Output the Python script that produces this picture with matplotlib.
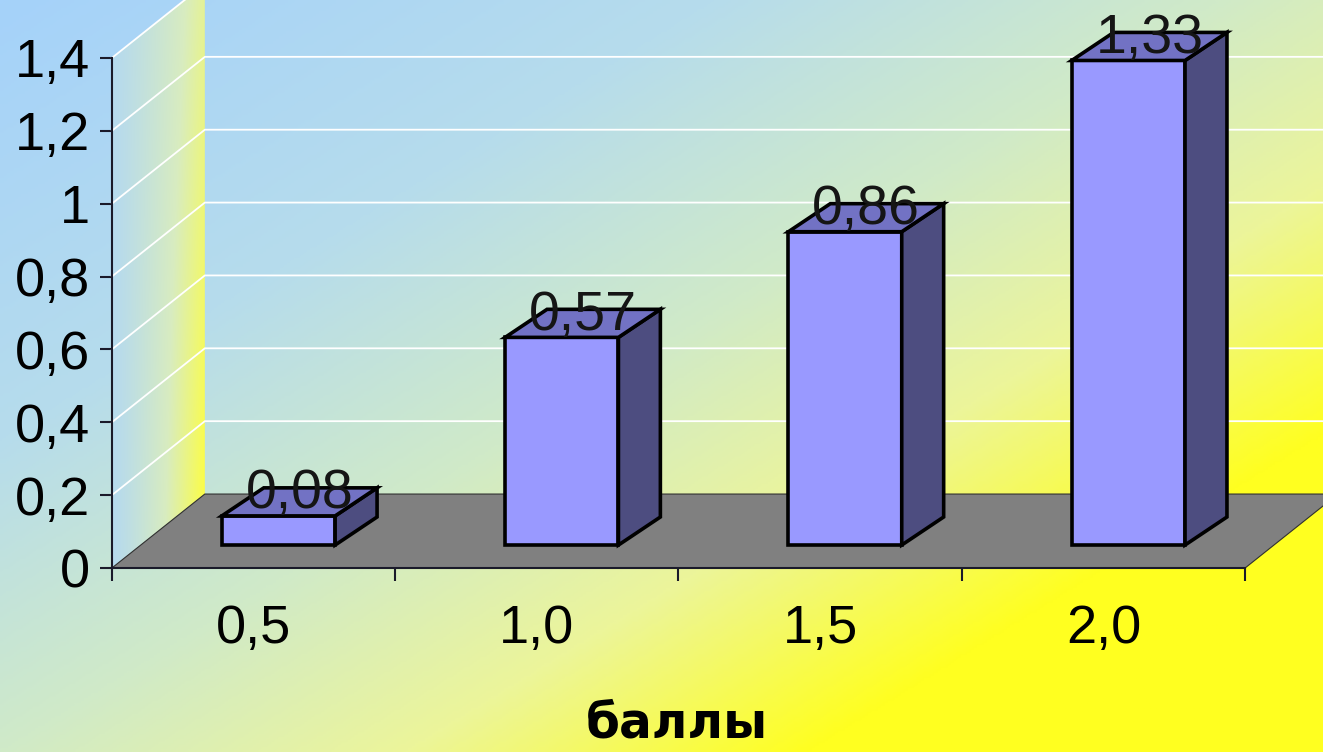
import numpy as np
import matplotlib
matplotlib.use('Agg')
import matplotlib.pyplot as plt
from matplotlib.patches import Polygon
from matplotlib.colors import LinearSegmentedColormap

plt.rcParams['font.family'] = ['Liberation Sans', 'DejaVu Sans']

categories = ['0,5', '1,0', '1,5', '2,0']
values = [0.08, 0.57, 0.86, 1.33]
value_labels = ['0,08', '0,57', '0,86', '1,33']
y_ticks = [0, 0.2, 0.4, 0.6, 0.8, 1.0, 1.2, 1.4]
y_tick_labels = ['0', '0,2', '0,4', '0,6', '0,8', '1', '1,2', '1,4']
x_title = 'баллы'

# pseudo 3D geometry (data units)
DX, DY = 0.328, 0.203   # depth of floor / walls
FX, FY = 0.088, 0.063   # front of the bars, pushed into the floor
BX, BY = 0.148, 0.077   # depth of the bars
W = 0.40
TOP = 1.4

fig = plt.figure(figsize=(13.23, 7.52), dpi=100)
ax = fig.add_axes([0, 0, 1, 1])
xmin, xmax = -0.395, 4.275
ymin, ymax = -0.505, 1.559

# background gradient
bg = LinearSegmentedColormap.from_list('bg', [(0, '#a5d2fa'), (0.35, '#b6dcec'), (0.6, '#d0eac8'),
                                              (0.8, '#ecf59a'), (1, '#ffff20')])
U, V = np.meshgrid(np.linspace(0, 1, 400), np.linspace(0, 1, 300))
T = np.clip(0.65 * U + 0.6 * V, 0, 1)
ax.imshow(T, cmap=bg, vmin=0, vmax=1, extent=(xmin, xmax, ymin, ymax), origin='upper',
          aspect='auto', zorder=0)

# left side wall
wall = Polygon([(0, 0), (DX, DY), (DX, TOP + DY), (0, TOP)], closed=True, fc='none', ec='none')
ax.add_patch(wall)
side_cm = LinearSegmentedColormap.from_list('side', ['#b6daee', '#d8ecc0', '#ffff3c'])
hx, vy = np.meshgrid(np.linspace(0, 1, 100), np.linspace(0, 1, 100))
G = np.clip(hx ** 1.2 * (0.65 + 0.35 * vy), 0, 1)
im = ax.imshow(G, cmap=side_cm, vmin=0, vmax=1, extent=(0, DX, 0, TOP + DY), origin='upper',
               aspect='auto', zorder=1)
im.set_clip_path(wall)

# gridlines on side and back walls
for t in y_ticks[1:]:
    ax.plot([0, DX, len(values) + DX], [t, t + DY, t + DY], color='white', lw=1.3, zorder=2)

# floor
floor = Polygon([(0, 0), (len(values), 0), (len(values) + DX, DY), (DX, DY)], closed=True,
                fc='#808080', ec='#303030', lw=0.8, zorder=3)
ax.add_patch(floor)

# bars
pos = np.arange(len(values)) + 0.5
ax.bar(pos + FX, values, width=W, bottom=FY, color='#9999ff', edgecolor='black',
       linewidth=2.6, zorder=5)
for p, v, lab in zip(pos, values, value_labels):
    xl = p + FX - W / 2
    xr = p + FX + W / 2
    y0, y1 = FY, FY + v
    ax.add_patch(Polygon([(xr, y0), (xr + BX, y0 + BY), (xr + BX, y1 + BY), (xr, y1)],
                         closed=True, fc='#4d4d80', ec='black', lw=2.6, joinstyle='miter', zorder=5))
    ax.add_patch(Polygon([(xl, y1), (xr, y1), (xr + BX, y1 + BY), (xl + BX, y1 + BY)],
                         closed=True, fc='#7272c4', ec='black', lw=2.6, joinstyle='miter', zorder=5))
    ax.annotate(lab, (p + FX + BX / 2, y1 + BY / 2), xytext=(0, -4.5), textcoords='offset points',
                ha='center', va='baseline', fontsize=40, color='#151515', zorder=6)

# axes
for s in ['top', 'right']:
    ax.spines[s].set_visible(False)
ax.spines['left'].set_position(('data', 0))
ax.spines['bottom'].set_position(('data', 0))
ax.spines['left'].set_bounds(0, TOP)
ax.spines['bottom'].set_bounds(0, len(values))
for s in ['left', 'bottom']:
    ax.spines[s].set_linewidth(1.5)
    ax.spines[s].set_color('#1a1a2a')
    ax.spines[s].set_zorder(4)

ax.set_yticks(y_ticks, y_tick_labels)
ax.tick_params(axis='y', length=9, width=1.5, pad=7, labelsize=39, color='#1a1a2a')
ax.set_xticks(range(len(values) + 1), [''] * (len(values) + 1))
ax.set_xticks(pos, categories, minor=True)
ax.tick_params(axis='x', which='major', length=9, width=1.5, color='#1a1a2a')
ax.tick_params(axis='x', which='minor', length=0, pad=26, labelsize=39)

ax.set_xlim(xmin, xmax)
ax.set_ylim(ymin, ymax)

fig.text(677 / 1323, 1 - 737 / 752, x_title, ha='center', va='baseline', fontsize=35,
         fontweight='bold', family='DejaVu Sans')

fig.savefig('out.png', dpi=100)
